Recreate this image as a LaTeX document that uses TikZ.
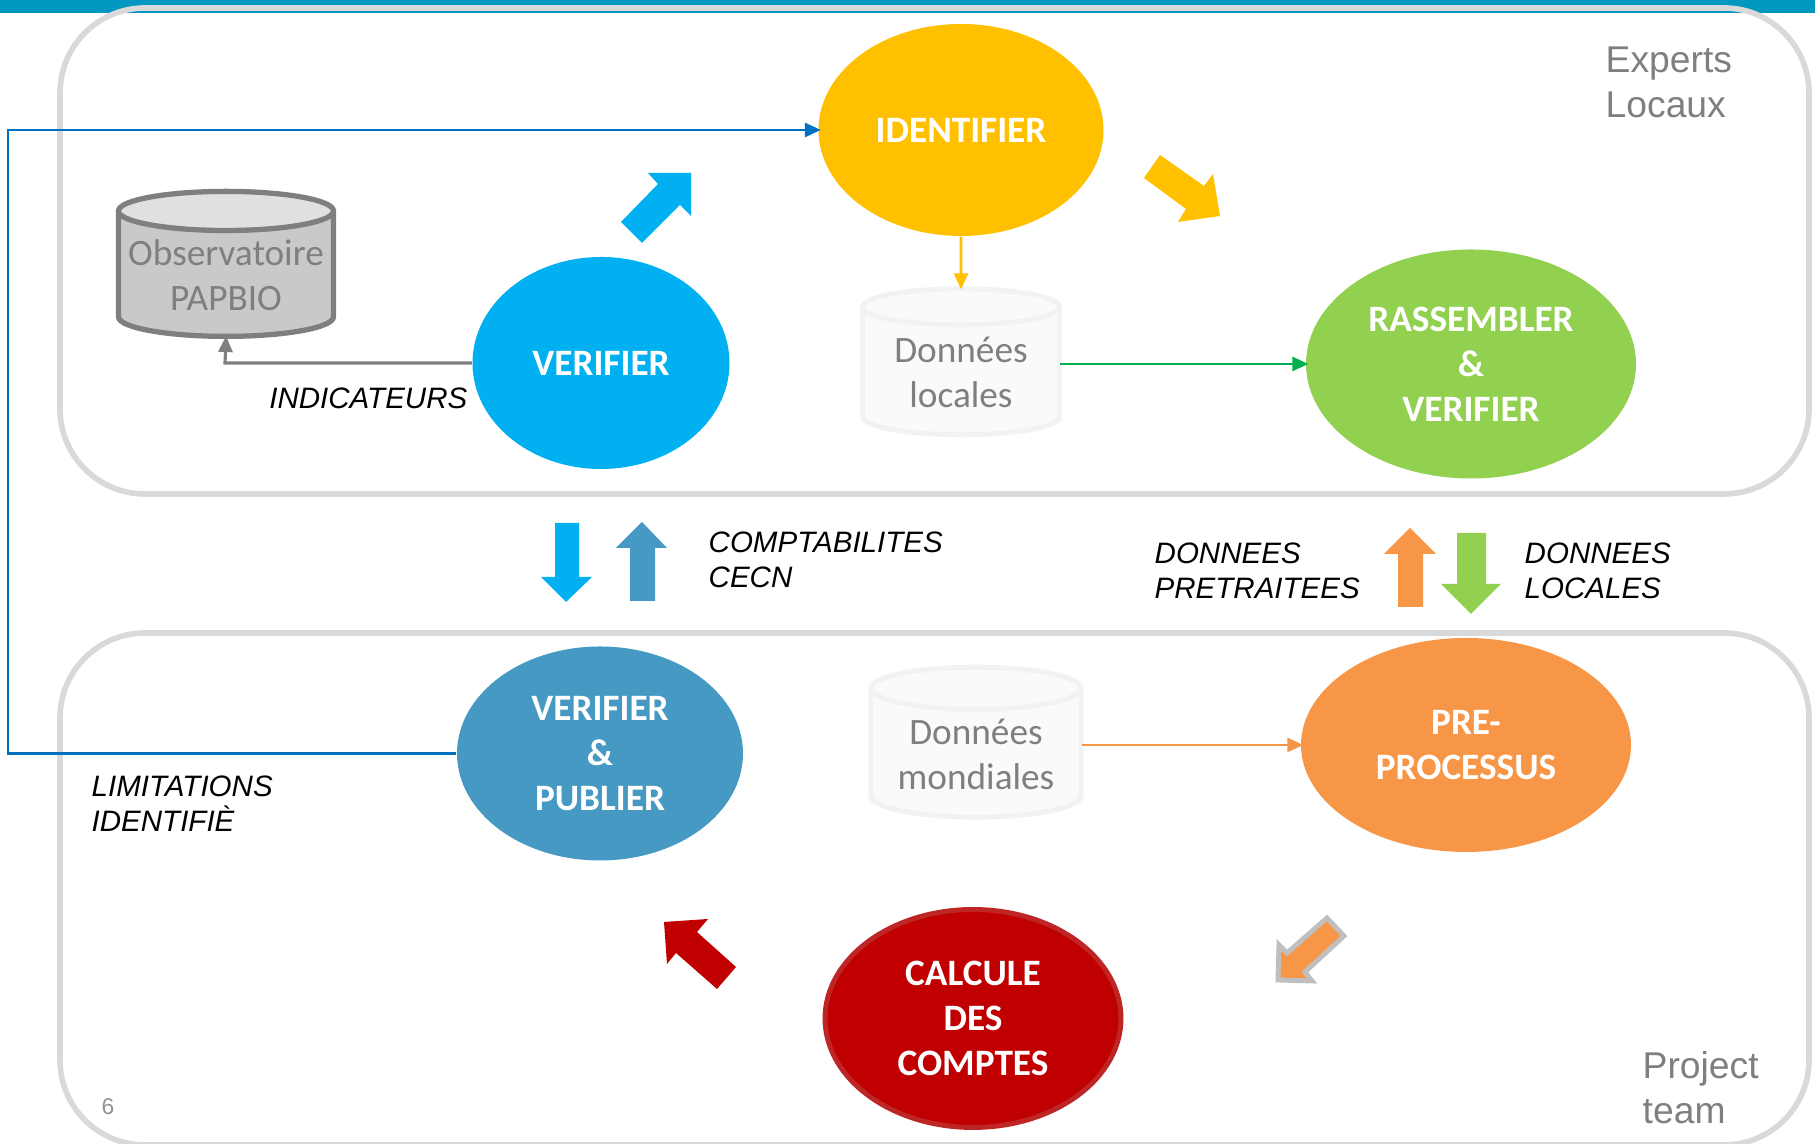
\documentclass[tikz,border=0pt]{standalone}
\usepackage{fontspec}
\usepackage{tikz}
\usetikzlibrary{shapes.geometric,arrows.meta}
\setmainfont{Liberation Sans}
\newfontfamily\calibri{Carlito}
\definecolor{bandteal}{HTML}{0097C1}
\definecolor{framegray}{HTML}{D9D9D9}
\definecolor{textgray}{HTML}{7F7F7F}
\definecolor{skyblue}{HTML}{00B0F0}
\definecolor{steelblue}{HTML}{4599C3}
\definecolor{linkblue}{HTML}{0070C0}
\definecolor{amber}{HTML}{FFC000}
\definecolor{leaf}{HTML}{92D050}
\definecolor{linkgreen}{HTML}{00B050}
\definecolor{tangerine}{HTML}{F79646}
\definecolor{darkred}{HTML}{C00000}
\tikzstyle{frame}=[draw=framegray,line width=1.6pt,rounded corners=0.85cm]
\tikzstyle{process}=[shape=ellipse,inner sep=0pt,text=white,align=center,font=\calibri\bfseries\fontsize{10.6}{12.8}\selectfont]
\tikzstyle{store}=[shape=cylinder,shape border rotate=90,aspect=0.3,inner sep=0pt,cylinder uses custom fill,text=textgray,align=center,font=\calibri\fontsize{10.6}{12.8}\selectfont]
\tikzstyle{lightstore}=[store,draw=black!5,line width=1.4pt,cylinder body fill=black!2,cylinder end fill=black!2]
\tikzstyle{flow}=[-{Triangle[length=0.16cm,width=0.14cm]},line width=0.8pt,shorten >=-0.03cm]
\tikzstyle{tag}=[align=left,inner sep=0pt,font=\itshape\fontsize{8.4}{9.9}\selectfont]
\tikzstyle{team}=[align=left,inner sep=0pt,text=textgray,font=\fontsize{10.6}{12.8}\selectfont]

\begin{document}
\begin{tikzpicture}[x=1cm,y=1cm]
	\useasboundingbox (0,0) rectangle (18.15,11.44);

	% band and frames
	\fill[bandteal] (0,11.44) rectangle (18.15,11.31);
	\draw[frame] (0.6,11.36) rectangle (18.09,6.5);
	\draw[frame] (0.6,5.11) rectangle (18.09,-0.01);

	% processes
	\node[process,fill=amber,minimum width=2.85cm,minimum height=2.12cm] (identifier) at (9.61,10.14) {IDENTIFIER};
	\node[process,fill=skyblue,minimum width=2.57cm,minimum height=2.12cm] (verifier) at (6.01,7.81) {VERIFIER};
	\node[process,fill=leaf,minimum width=3.3cm,minimum height=2.29cm] (rassembler) at (14.71,7.8) {RASSEMBLER\\\&\\VERIFIER};
	\node[process,fill=steelblue,minimum width=2.86cm,minimum height=2.14cm] (publier) at (6.0,3.905) {VERIFIER\\\&\\PUBLIER};
	\node[process,fill=tangerine,minimum width=3.3cm,minimum height=2.14cm] (preprocess) at (14.66,3.99) {PRE-\\PROCESSUS};
	\node[process,fill=darkred,draw=red!70!black!85,line width=1.4pt,minimum width=2.96cm,minimum height=2.18cm] (calcule) at (9.73,1.255) {CALCULE\\DES\\COMPTES};

	% stores
	\node[store,aspect=0.2,draw=textgray,line width=1.5pt,cylinder body fill=black!21,cylinder end fill=black!12,minimum width=2.15cm,minimum height=1.45cm] (papbio) at (2.26,8.69) {Observatoire\\PAPBIO};
	\node[lightstore,aspect=0.27,minimum width=1.97cm,minimum height=1.46cm] (locales) at (9.61,7.72) {Données\\locales};
	\node[lightstore,aspect=0.27,minimum width=2.1cm,minimum height=1.5cm] (mondiales) at (9.76,3.9) {Données\\mondiales};

	% connectors
	\draw[flow,draw=linkblue] (publier.west) -- (0.08,3.905) -- (0.08,10.14) -- (identifier.west);
	\draw[flow,draw=amber] (identifier.south) -- (locales.north);
	\draw[flow,draw=linkgreen,shorten <=-0.02cm] (locales.east |- rassembler.west) -- (rassembler.west);
	\draw[flow,draw=tangerine,shorten <=-0.02cm] (mondiales.east |- preprocess.west) -- (preprocess.west);
	\draw[flow,draw=textgray,line width=0.9pt] (verifier.west) -- (2.25,7.81) -- (papbio.south);

	% block arrows
	\fill[skyblue] (6.91,9.71) -- (6.48,9.71) -- (6.58,9.6) -- (6.21,9.22) -- (6.42,9.01) -- (6.8,9.39) -- (6.91,9.28) -- cycle;
	\fill[amber] (11.6,9.89) -- (12.04,9.58) -- (12.13,9.7) -- (12.2,9.28) -- (11.78,9.22) -- (11.86,9.35) -- (11.44,9.66) -- cycle;
	\fill[darkred] (6.64,2.22) -- (7.08,2.25) -- (6.97,2.12) -- (7.36,1.77) -- (7.17,1.55) -- (6.76,1.91) -- (6.67,1.8) -- cycle;
	\filldraw[fill=tangerine,draw=black!25,line width=1.4pt] (13.27,2.26) -- (13.44,2.08) -- (13.05,1.72) -- (13.12,1.63) -- (12.78,1.64) -- (12.79,1.99) -- (12.87,1.91) -- cycle;
	\fill[skyblue] (5.55,6.21) -- (5.79,6.21) -- (5.79,5.67) -- (5.92,5.67) -- (5.66,5.42) -- (5.41,5.67) -- (5.55,5.67) -- cycle;
	\fill[steelblue] (6.3,5.43) -- (6.55,5.43) -- (6.55,5.96) -- (6.67,5.96) -- (6.42,6.22) -- (6.16,5.96) -- (6.3,5.96) -- cycle;
	\fill[tangerine] (13.98,5.37) -- (14.23,5.37) -- (14.23,5.9) -- (14.36,5.9) -- (14.1,6.16) -- (13.84,5.9) -- (13.98,5.9) -- cycle;
	\fill[leaf] (14.57,6.11) -- (14.86,6.11) -- (14.86,5.6) -- (15.01,5.6) -- (14.71,5.3) -- (14.41,5.6) -- (14.57,5.6) -- cycle;

	% labels
	\node[tag,anchor=east] (indicateurs) at (4.68,7.46) {INDICATEURS};
	\node[tag,anchor=west] (comptabilites) at (7.08,5.84) {COMPTABILITES\\CECN};
	\node[tag,anchor=west] (pretraitees) at (11.54,5.73) {DONNEES\\PRETRAITEES};
	\node[tag,anchor=west] (donnees) at (15.24,5.73) {DONNEES\\LOCALES};
	\node[tag,anchor=west] (limitations) at (0.91,3.4) {LIMITATIONS\\IDENTIFIÈ};
	\node[team,anchor=west] (experts) at (16.05,10.62) {Experts\\Locaux};
	\node[team,anchor=west] (project) at (16.42,0.56) {Project\\team};
	\node[text=textgray!85,inner sep=0pt,font=\fontsize{6.5}{8}\selectfont] (page) at (1.08,0.37) {6};

\end{tikzpicture}
\end{document}
